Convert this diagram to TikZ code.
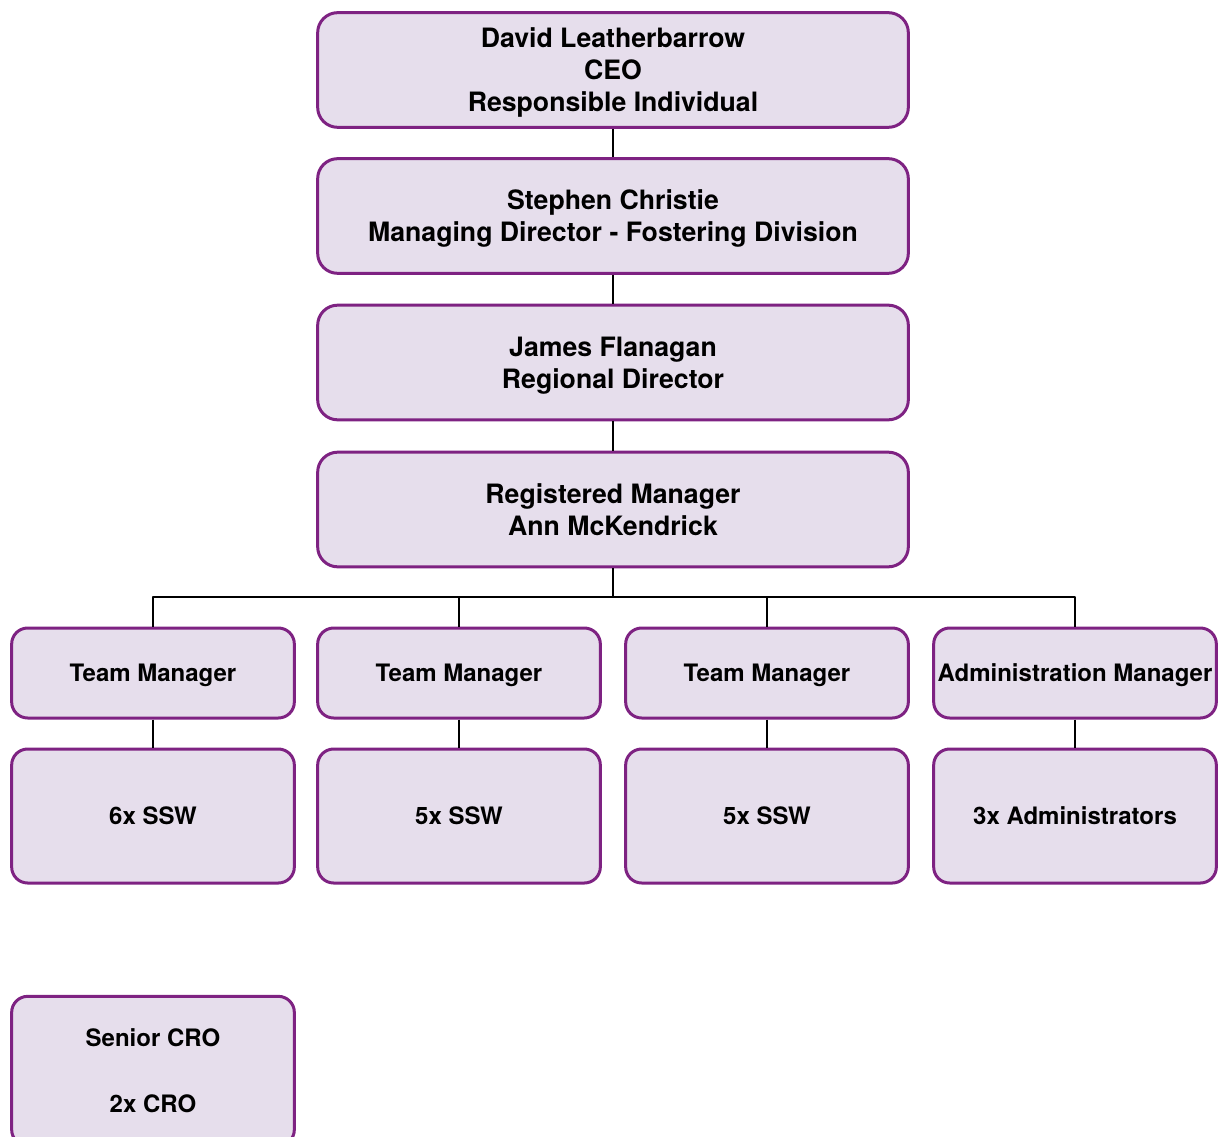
\documentclass[tikz,border=0pt]{standalone}
\usepackage{fontspec}
\setmainfont{TeX Gyre Heros}
\usetikzlibrary{positioning}
\definecolor{lilac}{HTML}{E6DEEC}
\definecolor{plum}{HTML}{7E2282}
\tikzset{
  orgbox/.style={draw=plum,fill=lilac,line width=2.25pt,align=center,inner sep=0pt,text depth=0pt},
  bigbox/.style={orgbox,rounded corners=15pt,minimum width=443pt,minimum height=86pt,
    font=\bfseries\fontsize{20}{24}\selectfont},
  smallbox/.style={orgbox,rounded corners=12pt,minimum width=212pt,
    font=\bfseries\fontsize{18}{24.75}\selectfont},
  link/.style={draw=black,line width=1.5pt,line cap=butt}
}
\begin{document}
\begin{tikzpicture}[line cap=round,line join=round,x=0.75pt,y=-0.75pt]
  \clip (0,0) rectangle (1219,1137);
  % top chain
  \node[bigbox] (ceo) at (613,70) {David Leatherbarrow\\CEO\\Responsible Individual};
  \node[bigbox] (md) at (613,216) {Stephen Christie\\Managing Director - Fostering Division};
  \node[bigbox] (rd) at (613,362.5) {James Flanagan\\Regional Director};
  \node[bigbox] (rm) at (613,509.5) {Registered Manager\\Ann McKendrick};
  % managers
  \node[smallbox,minimum height=67.5pt] (tma) at (153,673) {Team Manager};
  \node[smallbox,minimum height=67.5pt] (tmb) at (459,673) {Team Manager};
  \node[smallbox,minimum height=67.5pt] (tmc) at (767,673) {Team Manager};
  \node[smallbox,minimum height=67.5pt] (adm) at (1075,673) {Administration Manager};
  % teams
  \node[smallbox,minimum height=100.5pt] (ssa) at (153,816) {6x SSW};
  \node[smallbox,minimum height=100.5pt] (ssb) at (459,816) {5x SSW};
  \node[smallbox,minimum height=100.5pt] (ssc) at (767,816) {5x SSW};
  \node[smallbox,minimum height=100.5pt] (adx) at (1075,816) {3x Administrators};
  \node[smallbox,minimum height=112pt] (cro) at (153,1071) {Senior CRO\\\mbox{}\\2x CRO};

  \coordinate (bus) at (613,597);
  \draw[link] (ceo) -- (md);
  \draw[link] (md) -- (rd);
  \draw[link] (rd) -- (rm);
  \draw[link] (rm) -- (bus);
  \draw[link] (tma.north) -- (tma.north |- bus) -- (adm.north |- bus) -- (adm.north);
  \draw[link] (tmb.north) -- (tmb.north |- bus);
  \draw[link] (tmc.north) -- (tmc.north |- bus);
  \draw[link] (tma) -- (ssa);
  \draw[link] (tmb) -- (ssb);
  \draw[link] (tmc) -- (ssc);
  \draw[link] (adm) -- (adx);
\end{tikzpicture}
\end{document}
